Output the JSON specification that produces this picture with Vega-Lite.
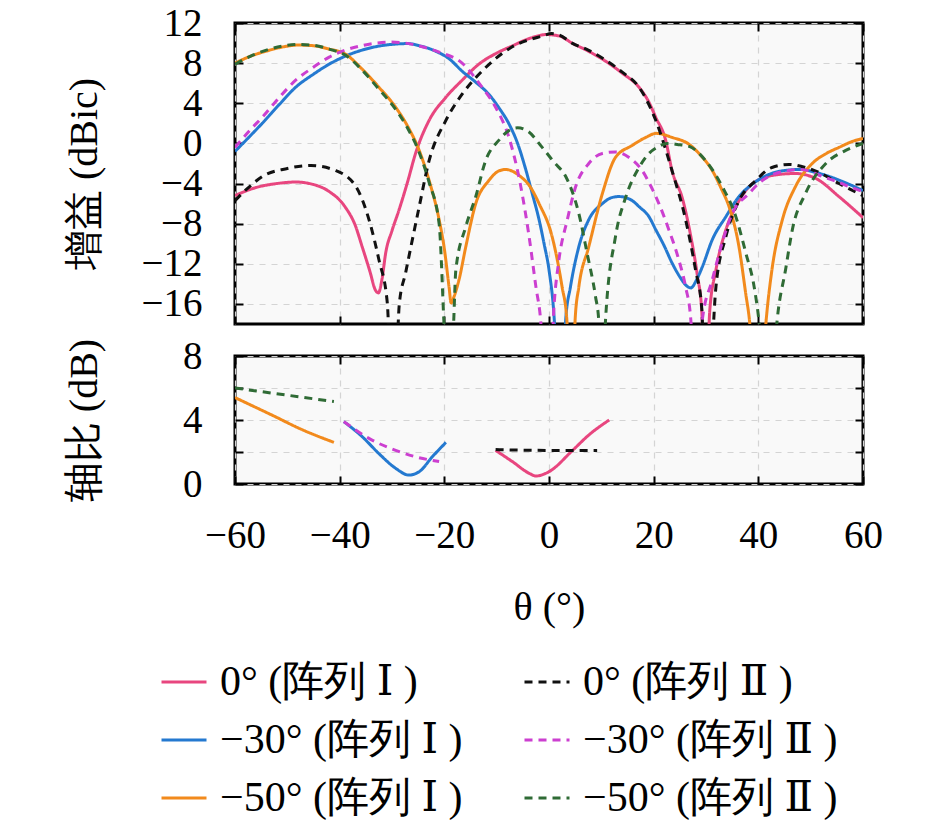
{
"$schema":"https://vega.github.io/schema/vega-lite/v6.json",
"background":"white",
"padding":{"left":62,"top":2,"right":10,"bottom":10},
"spacing":8,
"config":{
 "font":"'Liberation Serif', 'DejaVu Serif', serif",
 "view":{"stroke":"black","strokeWidth":3,"fill":"#f9f9f9"},
 "axis":{"labelFont":"'Liberation Serif', 'DejaVu Serif', serif","titleFont":"'Liberation Serif', 'DejaVu Serif', serif","labelFontSize":39,"titleFontSize":40,"titleFontWeight":"normal","labelColor":"black","titleColor":"black","tickColor":"black","tickWidth":2,"tickSize":-8,"domain":false,"grid":true,"gridColor":"#d4d4d4","gridDash":[6,6],"gridWidth":1.2,"labelOverlap":false,"labelFlush":false},
 "legend":{"symbolType":"stroke","symbolStrokeWidth":3,"symbolSize":2025,"labelFont":"'Liberation Serif', 'DejaVu Serif', serif","labelFontSize":42,"labelColor":"black","columns":2,"direction":"horizontal","rowPadding":13,"columnPadding":55,"labelOffset":12,"labelLimit":500,"padding":0}
},
"datasets":{
"gain":[
{"s":"0I","x":-60,"y":-5.2},{"s":"0I","x":-56,"y":-4.4},{"s":"0I","x":-52,"y":-4.0},{"s":"0I","x":-48.4,"y":-3.85},{"s":"0I","x":-45,"y":-4.1},{"s":"0I","x":-42,"y":-4.8},{"s":"0I","x":-39,"y":-6.3},{"s":"0I","x":-37,"y":-8.2},{"s":"0I","x":-35.7,"y":-10.3},{"s":"0I","x":-34.2,"y":-12.8},{"s":"0I","x":-33.2,"y":-14.6},{"s":"0I","x":-32.6,"y":-14.9},{"s":"0I","x":-31.9,"y":-13.5},{"s":"0I","x":-31.2,"y":-10.9},{"s":"0I","x":-30,"y":-8.7},{"s":"0I","x":-28.7,"y":-6.7},{"s":"0I","x":-27,"y":-3.8},{"s":"0I","x":-25.5,"y":-1.0},{"s":"0I","x":-22.9,"y":2.3},{"s":"0I","x":-19.7,"y":4.6},{"s":"0I","x":-16.6,"y":6.3},{"s":"0I","x":-13.4,"y":7.9},{"s":"0I","x":-10,"y":9.0},{"s":"0I","x":-7.1,"y":9.7},{"s":"0I","x":-3.5,"y":10.5},{"s":"0I","x":-0.5,"y":10.85},{"s":"0I","x":2,"y":10.7},{"s":"0I","x":4.4,"y":10.0},{"s":"0I","x":7.5,"y":9.2},{"s":"0I","x":10.8,"y":8.2},{"s":"0I","x":14,"y":7.0},{"s":"0I","x":17.2,"y":5.6},{"s":"0I","x":19,"y":4.2},{"s":"0I","x":20.4,"y":2.6},{"s":"0I","x":22.3,"y":0.3},{"s":"0I","x":23.5,"y":-2.7},{"s":"0I","x":25.5,"y":-5.5},{"s":"0I","x":27,"y":-9},{"s":"0I","x":28.3,"y":-13},{"s":"0I","x":29.2,"y":-16.8},{"s":"0I","x":29.9,"y":-30},{"s":"0I","x":30.7,"y":-16.8},{"s":"0I","x":31.9,"y":-12.6},{"s":"0I","x":33.8,"y":-8.6},{"s":"0I","x":35.7,"y":-6.3},{"s":"0I","x":38.5,"y":-4.2},{"s":"0I","x":42.6,"y":-3.2},{"s":"0I","x":47,"y":-3.0},{"s":"0I","x":51,"y":-3.5},{"s":"0I","x":55.4,"y":-5.3},{"s":"0I","x":60,"y":-7.4},
{"s":"30I","x":-60,"y":-0.8},{"s":"30I","x":-57,"y":0.8},{"s":"30I","x":-54.8,"y":2.0},{"s":"30I","x":-51.5,"y":3.9},{"s":"30I","x":-48.4,"y":5.6},{"s":"30I","x":-45,"y":6.9},{"s":"30I","x":-42,"y":7.9},{"s":"30I","x":-38.9,"y":8.7},{"s":"30I","x":-35.7,"y":9.3},{"s":"30I","x":-32.5,"y":9.7},{"s":"30I","x":-29.3,"y":9.9},{"s":"30I","x":-27,"y":9.95},{"s":"30I","x":-24.5,"y":9.7},{"s":"30I","x":-21.7,"y":9.2},{"s":"30I","x":-19,"y":8.4},{"s":"30I","x":-16.6,"y":7.2},{"s":"30I","x":-14,"y":6.1},{"s":"30I","x":-11.5,"y":4.9},{"s":"30I","x":-9.5,"y":3.5},{"s":"30I","x":-7.6,"y":1.9},{"s":"30I","x":-6,"y":0.0},{"s":"30I","x":-4.5,"y":-2.5},{"s":"30I","x":-3.2,"y":-5.0},{"s":"30I","x":-1.9,"y":-7.6},{"s":"30I","x":-0.9,"y":-10.1},{"s":"30I","x":0,"y":-12.6},{"s":"30I","x":1.0,"y":-17.5},{"s":"30I","x":2.1,"y":-30},{"s":"30I","x":3.2,"y":-17.5},{"s":"30I","x":4.1,"y":-14.3},{"s":"30I","x":5.7,"y":-10.3},{"s":"30I","x":7.6,"y":-7.6},{"s":"30I","x":10.2,"y":-6.0},{"s":"30I","x":12,"y":-5.4},{"s":"30I","x":13.4,"y":-5.3},{"s":"30I","x":15.9,"y":-5.7},{"s":"30I","x":17.2,"y":-6.3},{"s":"30I","x":19.1,"y":-7.3},{"s":"30I","x":20.4,"y":-8.6},{"s":"30I","x":22,"y":-10.2},{"s":"30I","x":23.5,"y":-11.9},{"s":"30I","x":25,"y":-13.3},{"s":"30I","x":26.1,"y":-14.1},{"s":"30I","x":27.1,"y":-14.4},{"s":"30I","x":28.2,"y":-13.6},{"s":"30I","x":29.3,"y":-12.3},{"s":"30I","x":31.2,"y":-9.6},{"s":"30I","x":33.8,"y":-7.3},{"s":"30I","x":36.3,"y":-5.3},{"s":"30I","x":39,"y":-4.0},{"s":"30I","x":42,"y":-3.1},{"s":"30I","x":45,"y":-2.7},{"s":"30I","x":48,"y":-2.6},{"s":"30I","x":51,"y":-2.9},{"s":"30I","x":54.1,"y":-3.4},{"s":"30I","x":57,"y":-4.0},{"s":"30I","x":60,"y":-4.7},
{"s":"50I","x":-60,"y":8.0},{"s":"50I","x":-57,"y":8.7},{"s":"50I","x":-54,"y":9.2},{"s":"50I","x":-51,"y":9.6},{"s":"50I","x":-48,"y":9.8},{"s":"50I","x":-45.3,"y":9.75},{"s":"50I","x":-42,"y":9.4},{"s":"50I","x":-38.9,"y":8.9},{"s":"50I","x":-35.7,"y":7.4},{"s":"50I","x":-32.5,"y":5.6},{"s":"50I","x":-29.3,"y":3.6},{"s":"50I","x":-27,"y":1.7},{"s":"50I","x":-24.8,"y":-0.7},{"s":"50I","x":-22.9,"y":-3.7},{"s":"50I","x":-21,"y":-7.6},{"s":"50I","x":-20,"y":-10.5},{"s":"50I","x":-19.1,"y":-14.3},{"s":"50I","x":-18.7,"y":-15.9},{"s":"50I","x":-18.1,"y":-15.2},{"s":"50I","x":-17.2,"y":-13.6},{"s":"50I","x":-15.9,"y":-10.3},{"s":"50I","x":-14,"y":-6.0},{"s":"50I","x":-11.5,"y":-3.7},{"s":"50I","x":-9.6,"y":-2.75},{"s":"50I","x":-8.3,"y":-2.6},{"s":"50I","x":-5.7,"y":-3.2},{"s":"50I","x":-3.5,"y":-4.4},{"s":"50I","x":-1.9,"y":-6.0},{"s":"50I","x":0.6,"y":-9.3},{"s":"50I","x":2.5,"y":-14.3},{"s":"50I","x":3.4,"y":-17.5},{"s":"50I","x":4.2,"y":-30},{"s":"50I","x":5,"y":-17.5},{"s":"50I","x":5.7,"y":-14.3},{"s":"50I","x":7.6,"y":-10.3},{"s":"50I","x":10.2,"y":-5.0},{"s":"50I","x":12.7,"y":-1.4},{"s":"50I","x":15.9,"y":-0.2},{"s":"50I","x":18.5,"y":0.6},{"s":"50I","x":20.5,"y":1.0},{"s":"50I","x":23.5,"y":0.6},{"s":"50I","x":26.8,"y":-0.1},{"s":"50I","x":29,"y":-1.2},{"s":"50I","x":31.2,"y":-2.7},{"s":"50I","x":33,"y":-4.6},{"s":"50I","x":34.4,"y":-6.3},{"s":"50I","x":36.3,"y":-10.3},{"s":"50I","x":37.6,"y":-15},{"s":"50I","x":38.3,"y":-17.6},{"s":"50I","x":39.9,"y":-30},{"s":"50I","x":41.5,"y":-17.6},{"s":"50I","x":42.6,"y":-12.6},{"s":"50I","x":44.6,"y":-7.6},{"s":"50I","x":47.1,"y":-4.3},{"s":"50I","x":50.3,"y":-2.0},{"s":"50I","x":53,"y":-1.0},{"s":"50I","x":55.4,"y":-0.4},{"s":"50I","x":58,"y":0.2},{"s":"50I","x":60,"y":0.5},
{"s":"0II","x":-60,"y":-5.7},{"s":"0II","x":-57,"y":-4.2},{"s":"0II","x":-54.8,"y":-3.3},{"s":"0II","x":-50,"y":-2.5},{"s":"0II","x":-45.5,"y":-2.2},{"s":"0II","x":-40.8,"y":-2.7},{"s":"0II","x":-36.9,"y":-4.3},{"s":"0II","x":-34.4,"y":-7.6},{"s":"0II","x":-32.5,"y":-11.6},{"s":"0II","x":-30.9,"y":-15.9},{"s":"0II","x":-29.8,"y":-30},{"s":"0II","x":-28.6,"y":-16},{"s":"0II","x":-27.4,"y":-12.9},{"s":"0II","x":-24.8,"y":-6.3},{"s":"0II","x":-22.9,"y":-1.7},{"s":"0II","x":-19.7,"y":2.3},{"s":"0II","x":-16.6,"y":4.9},{"s":"0II","x":-12.8,"y":7.2},{"s":"0II","x":-7.1,"y":9.6},{"s":"0II","x":-1.3,"y":10.7},{"s":"0II","x":0.5,"y":10.95},{"s":"0II","x":2,"y":10.8},{"s":"0II","x":4.4,"y":10.0},{"s":"0II","x":7.5,"y":9.3},{"s":"0II","x":10.8,"y":8.3},{"s":"0II","x":14,"y":7.1},{"s":"0II","x":17.2,"y":5.6},{"s":"0II","x":20.4,"y":2.3},{"s":"0II","x":23.5,"y":-2.7},{"s":"0II","x":26.1,"y":-7.6},{"s":"0II","x":28,"y":-12.6},{"s":"0II","x":29.2,"y":-16.5},{"s":"0II","x":30,"y":-30},{"s":"0II","x":31.9,"y":-14.3},{"s":"0II","x":33.8,"y":-9.3},{"s":"0II","x":36.3,"y":-5.7},{"s":"0II","x":39.5,"y":-3.7},{"s":"0II","x":42.6,"y":-2.4},{"s":"0II","x":45.9,"y":-2.1},{"s":"0II","x":49,"y":-2.4},{"s":"0II","x":52,"y":-3.0},{"s":"0II","x":55.4,"y":-4.0},{"s":"0II","x":60,"y":-5.2},
{"s":"30II","x":-60,"y":-0.4},{"s":"30II","x":-57,"y":1.4},{"s":"30II","x":-54.8,"y":2.6},{"s":"30II","x":-51.5,"y":4.6},{"s":"30II","x":-48.4,"y":6.3},{"s":"30II","x":-45,"y":7.6},{"s":"30II","x":-42,"y":8.6},{"s":"30II","x":-38.9,"y":9.3},{"s":"30II","x":-35.7,"y":9.75},{"s":"30II","x":-33,"y":10.0},{"s":"30II","x":-30.6,"y":10.1},{"s":"30II","x":-27.5,"y":10.0},{"s":"30II","x":-24.8,"y":9.7},{"s":"30II","x":-21,"y":9.1},{"s":"30II","x":-16.6,"y":8.0},{"s":"30II","x":-12.8,"y":5.6},{"s":"30II","x":-10.2,"y":3.6},{"s":"30II","x":-7.6,"y":0.5},{"s":"30II","x":-5.5,"y":-4.0},{"s":"30II","x":-3.8,"y":-9.3},{"s":"30II","x":-2.5,"y":-14.3},{"s":"30II","x":-1.6,"y":-17.6},{"s":"30II","x":-0.3,"y":-30},{"s":"30II","x":1.0,"y":-15.9},{"s":"30II","x":1.9,"y":-11.6},{"s":"30II","x":3.5,"y":-7.6},{"s":"30II","x":5.1,"y":-4.3},{"s":"30II","x":7.6,"y":-2.0},{"s":"30II","x":10.2,"y":-1.0},{"s":"30II","x":12.7,"y":-0.85},{"s":"30II","x":15.3,"y":-1.4},{"s":"30II","x":17.8,"y":-2.7},{"s":"30II","x":19.5,"y":-4.3},{"s":"30II","x":21,"y":-6.0},{"s":"30II","x":22.9,"y":-8.6},{"s":"30II","x":24.8,"y":-11.6},{"s":"30II","x":26.1,"y":-14.3},{"s":"30II","x":27.1,"y":-17.6},{"s":"30II","x":28.2,"y":-30},{"s":"30II","x":29.3,"y":-17.6},{"s":"30II","x":31.2,"y":-13.6},{"s":"30II","x":33.1,"y":-9.9},{"s":"30II","x":35,"y":-7.0},{"s":"30II","x":38.2,"y":-5.0},{"s":"30II","x":40.5,"y":-3.8},{"s":"30II","x":42,"y":-3.3},{"s":"30II","x":45.9,"y":-2.7},{"s":"30II","x":48,"y":-2.6},{"s":"30II","x":50,"y":-2.8},{"s":"30II","x":52.2,"y":-3.3},{"s":"30II","x":55,"y":-3.8},{"s":"30II","x":57.3,"y":-4.3},{"s":"30II","x":60,"y":-4.8},
{"s":"50II","x":-60,"y":7.9},{"s":"50II","x":-57,"y":8.7},{"s":"50II","x":-54,"y":9.3},{"s":"50II","x":-51,"y":9.7},{"s":"50II","x":-48,"y":9.85},{"s":"50II","x":-45.3,"y":9.8},{"s":"50II","x":-42,"y":9.4},{"s":"50II","x":-38.9,"y":8.8},{"s":"50II","x":-35.7,"y":7.3},{"s":"50II","x":-32.5,"y":5.4},{"s":"50II","x":-29.3,"y":3.4},{"s":"50II","x":-27,"y":1.5},{"s":"50II","x":-24.8,"y":-0.9},{"s":"50II","x":-22.9,"y":-3.9},{"s":"50II","x":-21,"y":-8},{"s":"50II","x":-20.1,"y":-17.6},{"s":"50II","x":-19.1,"y":-30},{"s":"50II","x":-18.2,"y":-17.6},{"s":"50II","x":-17.8,"y":-12.6},{"s":"50II","x":-15.9,"y":-8.3},{"s":"50II","x":-14,"y":-5.3},{"s":"50II","x":-12.1,"y":-1.7},{"s":"50II","x":-9.6,"y":0.3},{"s":"50II","x":-7.6,"y":1.3},{"s":"50II","x":-6,"y":1.55},{"s":"50II","x":-4,"y":1.2},{"s":"50II","x":-1.3,"y":-0.4},{"s":"50II","x":1,"y":-1.9},{"s":"50II","x":3.2,"y":-3.3},{"s":"50II","x":5.7,"y":-7.0},{"s":"50II","x":7.3,"y":-11},{"s":"50II","x":8.9,"y":-15.3},{"s":"50II","x":9.5,"y":-17.6},{"s":"50II","x":10.15,"y":-30},{"s":"50II","x":10.8,"y":-17.6},{"s":"50II","x":12.7,"y":-9.3},{"s":"50II","x":14.7,"y":-5.3},{"s":"50II","x":17.2,"y":-2.4},{"s":"50II","x":19.1,"y":-1.0},{"s":"50II","x":21,"y":-0.3},{"s":"50II","x":22.5,"y":0.0},{"s":"50II","x":24.5,"y":-0.1},{"s":"50II","x":26.8,"y":-0.3},{"s":"50II","x":29.9,"y":-1.7},{"s":"50II","x":33.1,"y":-4.3},{"s":"50II","x":35.7,"y":-7.3},{"s":"50II","x":37.6,"y":-10.9},{"s":"50II","x":39.2,"y":-14.3},{"s":"50II","x":40.1,"y":-17.6},{"s":"50II","x":41.9,"y":-30},{"s":"50II","x":43.6,"y":-17.6},{"s":"50II","x":45.2,"y":-12.6},{"s":"50II","x":46.5,"y":-8.6},{"s":"50II","x":49,"y":-5.0},{"s":"50II","x":52.9,"y":-2.0},{"s":"50II","x":56.7,"y":-0.7},{"s":"50II","x":60,"y":0.0}
],
"ar":[
{"s":"0I","x":-10.2,"y":2.1},{"s":"0I","x":-7,"y":1.4},{"s":"0I","x":-3.8,"y":0.67},{"s":"0I","x":-2.5,"y":0.5},{"s":"0I","x":0,"y":0.77},{"s":"0I","x":4.5,"y":2.1},{"s":"0I","x":7.6,"y":3.06},{"s":"0I","x":11.5,"y":4.0},
{"s":"30I","x":-39.2,"y":3.9},{"s":"30I","x":-35.7,"y":2.96},{"s":"30I","x":-32.5,"y":1.9},{"s":"30I","x":-29.3,"y":0.98},{"s":"30I","x":-26.8,"y":0.56},{"s":"30I","x":-24.8,"y":0.77},{"s":"30I","x":-22.3,"y":1.7},{"s":"30I","x":-19.7,"y":2.6},
{"s":"50I","x":-60,"y":5.4},{"s":"50I","x":-52.9,"y":4.3},{"s":"50I","x":-47.2,"y":3.4},{"s":"50I","x":-41.1,"y":2.6},
{"s":"0II","x":-10.2,"y":2.15},{"s":"0II","x":0,"y":2.1},{"s":"0II","x":9.2,"y":2.1},
{"s":"30II","x":-39.2,"y":3.9},{"s":"30II","x":-34.4,"y":2.85},{"s":"30II","x":-29.3,"y":2.1},{"s":"30II","x":-25.5,"y":1.7},{"s":"30II","x":-21,"y":1.4},
{"s":"50II","x":-60,"y":6.0},{"s":"50II","x":-50,"y":5.55},{"s":"50II","x":-41.1,"y":5.15}
]
},
"vconcat":[
{
 "width":628,"height":301,
 "data":{"name":"gain"},
 "layer":[
  {
   "mark":{"type":"line","strokeWidth":3,"clip":true,"interpolate":"monotone"},
   "encoding":{
    "x":{"field":"x","type":"quantitative","scale":{"domain":[-60,60],"nice":false},"axis":{"orient":"bottom","values":[-60,-40,-20,0,20,40,60],"labels":false,"title":null}},
    "y":{"field":"y","type":"quantitative","scale":{"domain":[-18,12],"nice":false},"axis":{"orient":"left","values":[-16,-12,-8,-4,0,4,8,12],"title":"增益 (dBic)","labelPadding":41,"titleX":-131}},
    "color":{"field":"s","type":"nominal","scale":{"domain":["0I","0II","30I","30II","50I","50II"],"range":["#e8467f","#111111","#2479d0","#cc3fd0","#f28a1c","#2f6b35"]},"legend":{"title":null,"orient":"none","legendX":-75,"legendY":635,"labelExpr":"{'0I':'0° (阵列 Ⅰ )','0II':'0° (阵列 Ⅱ )','30I':'−30° (阵列 Ⅰ )','30II':'−30° (阵列 Ⅱ )','50I':'−50° (阵列 Ⅰ )','50II':'−50° (阵列 Ⅱ )'}[datum.label]"}},
    "strokeDash":{"field":"s","type":"nominal","scale":{"domain":["0I","0II","30I","30II","50I","50II"],"range":[[1,0],[8,6],[1,0],[8,6],[1,0],[8,6]]},"legend":{"title":null,"orient":"none","legendX":-75,"legendY":635,"labelExpr":"{'0I':'0° (阵列 Ⅰ )','0II':'0° (阵列 Ⅱ )','30I':'−30° (阵列 Ⅰ )','30II':'−30° (阵列 Ⅱ )','50I':'−50° (阵列 Ⅰ )','50II':'−50° (阵列 Ⅱ )'}[datum.label]"}}
   }
  },
  {
   "mark":{"type":"line","opacity":0,"clip":true},
   "encoding":{
    "x":{"field":"x","type":"quantitative","axis":{"orient":"top","values":[-60,-40,-20,0,20,40,60],"labels":false,"title":null,"grid":false}},
    "y":{"field":"y","type":"quantitative","axis":{"orient":"right","values":[-16,-12,-8,-4,0,4,8,12],"labels":false,"title":null,"grid":false}},
    "detail":{"field":"s"}
   }
  }
 ],
 "resolve":{"axis":{"x":"independent","y":"independent"}}
},
{
 "width":628,"height":128,
 "data":{"name":"ar"},
 "layer":[
  {
   "mark":{"type":"line","strokeWidth":3,"clip":true,"interpolate":"monotone"},
   "encoding":{
    "x":{"field":"x","type":"quantitative","scale":{"domain":[-60,60],"nice":false},"axis":{"orient":"bottom","values":[-60,-40,-20,0,20,40,60],"title":"θ (°)","labelPadding":40,"titlePadding":32}},
    "y":{"field":"y","type":"quantitative","scale":{"domain":[0,8],"nice":false},"axis":{"orient":"left","values":[0,2,4,6,8],"labelExpr":"datum.value % 4 === 0 ? datum.label : ''","title":"轴比 (dB)","labelPadding":41,"titleX":-131}},
    "color":{"field":"s","type":"nominal","scale":{"domain":["0I","0II","30I","30II","50I","50II"],"range":["#e8467f","#111111","#2479d0","#cc3fd0","#f28a1c","#2f6b35"]},"legend":{"title":null,"orient":"none","legendX":-75,"legendY":635,"labelExpr":"{'0I':'0° (阵列 Ⅰ )','0II':'0° (阵列 Ⅱ )','30I':'−30° (阵列 Ⅰ )','30II':'−30° (阵列 Ⅱ )','50I':'−50° (阵列 Ⅰ )','50II':'−50° (阵列 Ⅱ )'}[datum.label]"}},
    "strokeDash":{"field":"s","type":"nominal","scale":{"domain":["0I","0II","30I","30II","50I","50II"],"range":[[1,0],[8,6],[1,0],[8,6],[1,0],[8,6]]},"legend":{"title":null,"orient":"none","legendX":-75,"legendY":635,"labelExpr":"{'0I':'0° (阵列 Ⅰ )','0II':'0° (阵列 Ⅱ )','30I':'−30° (阵列 Ⅰ )','30II':'−30° (阵列 Ⅱ )','50I':'−50° (阵列 Ⅰ )','50II':'−50° (阵列 Ⅱ )'}[datum.label]"}}
   }
  },
  {
   "mark":{"type":"line","opacity":0,"clip":true},
   "encoding":{
    "x":{"field":"x","type":"quantitative","axis":{"orient":"top","values":[-60,-40,-20,0,20,40,60],"labels":false,"title":null,"grid":false}},
    "y":{"field":"y","type":"quantitative","axis":{"orient":"right","values":[0,2,4,6,8],"labels":false,"title":null,"grid":false}},
    "detail":{"field":"s"}
   }
  }
 ],
 "resolve":{"axis":{"x":"independent","y":"independent"}}
}
],
"resolve":{"scale":{"color":"shared","strokeDash":"shared"},"legend":{"color":"shared","strokeDash":"shared"}}
}
